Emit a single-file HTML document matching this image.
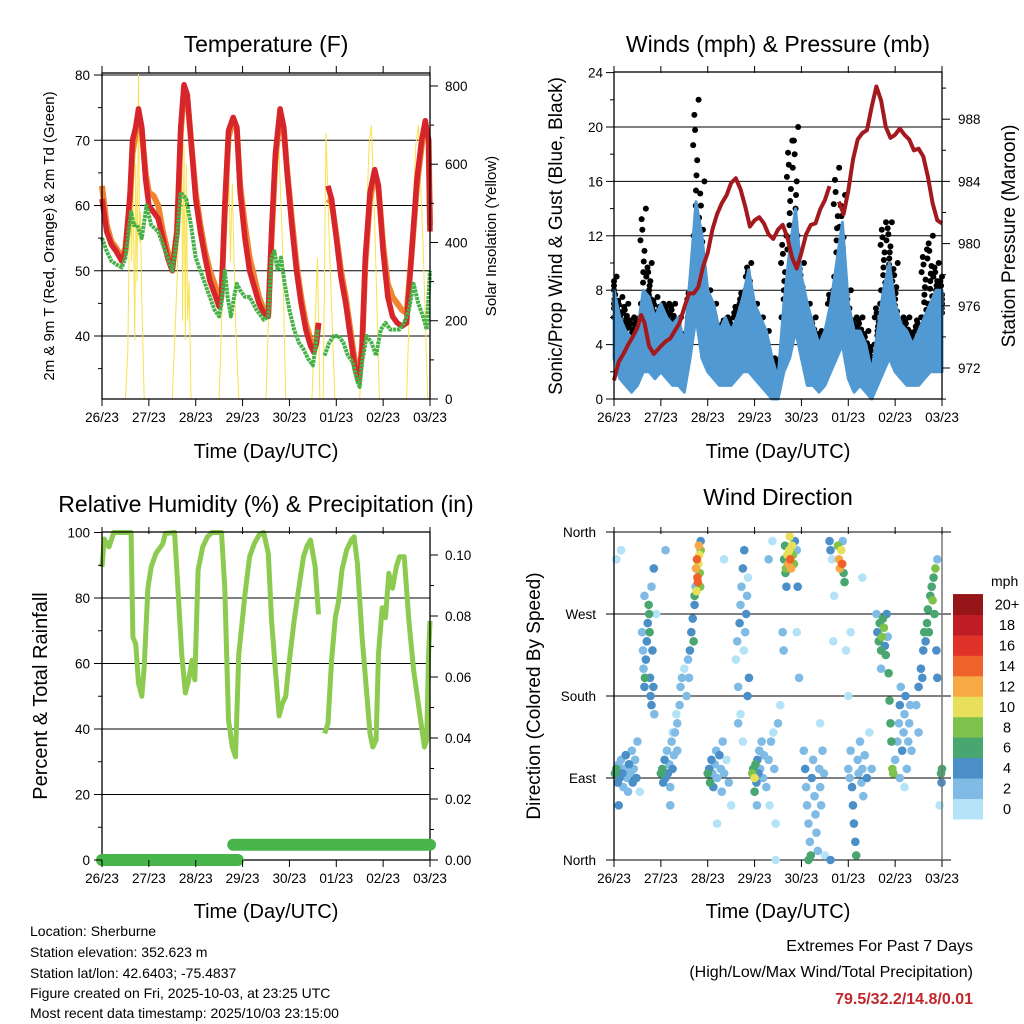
<!DOCTYPE html>
<html><head><meta charset="utf-8"><style>
html,body{margin:0;padding:0;background:#fff;}
svg{display:block;font-family:"Liberation Sans",sans-serif;}
</style></head>
<body>
<svg id="chart" width="1024" height="1024" viewBox="0 0 1024 1024" xmlns="http://www.w3.org/2000/svg">
<rect x="0" y="0" width="1024" height="1024" fill="#fff"/>
<text x="266" y="52" font-size="23" text-anchor="middle">Temperature (F)</text>
<text x="778" y="52" font-size="23" text-anchor="middle">Winds (mph) &amp; Pressure (mb)</text>
<text x="266" y="512" font-size="23" text-anchor="middle">Relative Humidity (%) &amp; Precipitation (in)</text>
<text x="778" y="505" font-size="23" text-anchor="middle">Wind Direction</text>
<text transform="translate(54,236) rotate(-90)" font-size="15" text-anchor="middle">2m &amp; 9m T (Red, Orange) &amp; 2m Td (Green)</text>
<text transform="translate(496,236) rotate(-90)" font-size="15" text-anchor="middle">Solar Insolation (Yellow)</text>
<text transform="translate(562,236) rotate(-90)" font-size="19" text-anchor="middle">Sonic/Prop Wind &amp; Gust (Blue, Black)</text>
<text transform="translate(1015,236) rotate(-90)" font-size="19" text-anchor="middle">Station Pressure (Maroon)</text>
<text transform="translate(47,696) rotate(-90)" font-size="20" text-anchor="middle">Percent &amp; Total Rainfall</text>
<text transform="translate(540,696) rotate(-90)" font-size="19" text-anchor="middle">Direction (Colored By Speed)</text>
<text x="266" y="458" font-size="20" text-anchor="middle">Time (Day/UTC)</text>
<text x="778" y="458" font-size="20" text-anchor="middle">Time (Day/UTC)</text>
<text x="266" y="918" font-size="20" text-anchor="middle">Time (Day/UTC)</text>
<text x="778" y="918" font-size="20" text-anchor="middle">Time (Day/UTC)</text>
<g font-size="14">
<text x="30" y="936">Location: Sherburne</text>
<text x="30" y="957">Station elevation: 352.623 m</text>
<text x="30" y="978">Station lat/lon: 42.6403; -75.4837</text>
<text x="30" y="998">Figure created on Fri, 2025-10-03, at 23:25 UTC</text>
<text x="30" y="1018">Most recent data timestamp: 2025/10/03 23:15:00</text>
</g>
<g text-anchor="end">
<text x="973" y="951" font-size="16">Extremes For Past 7 Days</text>
<text x="973" y="977" font-size="16">(High/Low/Max Wind/Total Precipitation)</text>
<text x="973" y="1004" font-size="16" font-weight="bold" fill="#c0282d">79.5/32.2/14.8/0.01</text>
</g>
</svg>
<script>
// ---------- DATA ----------
const dayLabels = ["26/23","27/23","28/23","29/23","30/23","01/23","02/23","03/23"];
const tempTimes = [0,0.1,0.2,0.3,0.42,0.5,0.6,0.65,0.72,0.78,0.85,0.93,1.0,1.1,1.2,1.3,1.4,1.5,1.6,1.68,1.75,1.82,1.9,2.0,2.1,2.2,2.3,2.4,2.5,2.55,2.62,2.7,2.8,2.88,2.95,3.05,3.15,3.25,3.35,3.45,3.55,3.62,3.7,3.8,3.88,3.95,4.05,4.15,4.25,4.35,4.45,4.52,4.58,4.62,4.7,4.82,4.9,5.0,5.1,5.2,5.3,5.4,5.48,5.55,5.62,5.72,5.82,5.9,6.0,6.1,6.2,6.3,6.4,6.5,6.6,6.72,6.82,6.9,6.97,7.0];
const temp2m = [61,56,54,53,51.5,53,62,70,72,74.8,72,64,60,59,58,55,52,50,56,72,78.5,77,70,61,56,52,48.5,46.5,44.5,46,60,71.5,73.5,72,62,55,50,47.5,45,43.5,43,56,68,74.8,72,65,57,50,45,41,38.5,37.5,39,42,null,63,61,55,49,45,40,35,33,38,52,62,65.5,63,53,46,43,42,41.5,42,52,64,70,73,70,56];
const temp9m = [63,57,54.5,53.5,52,53.5,61,68,71,74,71.5,65,62,61.5,60,56,53,50.5,56,71,78,76.5,70,62,57,53,50,48,45.5,46.5,59,70.5,73,71.5,63,57,52,49,46,44,43.5,55,67,74,71.5,65.5,58,51,46,42,39.5,38,39.5,42,null,61,60.5,55.5,50,46,41,36,33.5,38.5,51,61,64.5,62.5,54,48,46,45,44,43.5,52,63,69,72.5,70,57];
const dewTimes = [0,0.1,0.2,0.3,0.42,0.5,0.62,0.68,0.75,0.85,0.95,1.05,1.2,1.3,1.4,1.5,1.6,1.68,1.8,1.9,2.0,2.1,2.2,2.3,2.4,2.5,2.55,2.62,2.68,2.75,2.82,2.88,2.95,3.05,3.15,3.3,3.45,3.55,3.62,3.68,3.75,3.82,3.9,4.0,4.1,4.2,4.3,4.4,4.5,4.55,4.6,4.68,4.75,4.85,4.95,5.05,5.15,5.25,5.35,5.45,5.5,5.55,5.65,5.75,5.85,5.95,6.05,6.15,6.25,6.35,6.45,6.55,6.65,6.75,6.85,6.93,7.0];
const dewpoint = [55,53,51.5,51,50.5,52,59,57,57,55,60,57,56,54,52,50,55,62,61,57,52,50,48,46,44,43,45,50,46,43,46,48,47,46,46,44,42.5,43,52,53,50,52,48,44,41,39,38,36.5,35.5,38,41,null,37,39,40,40,39,37,36,33,32.2,36,40,39,37,41,42,41,41,41,42,44,48,45,43,41,50];
const solarTimes = [0,0.5,0.55,0.6,0.63,0.66,0.7,0.72,0.75,0.78,0.8,0.82,0.85,0.9,1.5,1.6,1.65,1.7,1.72,1.75,1.78,1.8,1.83,1.86,1.9,2.5,2.58,2.62,2.66,2.7,2.74,2.78,2.85,2.92,3.5,3.6,3.7,3.75,3.85,3.92,4.48,4.55,4.6,4.65,4.72,4.78,4.85,4.97,5.5,5.6,5.7,5.75,5.82,5.92,6.5,6.6,6.7,6.75,6.85,6.95,7.0];
const solarWm2 = [0,0,120,580,350,550,150,600,300,830,400,480,250,0,0,300,500,700,200,650,150,600,200,300,0,0,300,600,450,650,350,550,200,0,0,400,650,720,400,0,0,200,360,0,0,680,400,0,0,300,650,700,450,0,0,400,650,700,400,0,0];

const windTimes = [0,0.125,0.25,0.375,0.5,0.625,0.75,0.875,1,1.125,1.25,1.375,1.5,1.625,1.75,1.875,2,2.125,2.25,2.375,2.5,2.625,2.75,2.875,3,3.125,3.25,3.375,3.5,3.625,3.75,3.875,4,4.125,4.25,4.375,4.5,4.625,4.75,4.875,5,5.125,5.25,5.375,5.5,5.625,5.75,5.875,6,6.125,6.25,6.375,6.5,6.625,6.75,6.875,7];
const sonicHi = [8,6,5,4.5,5,8,7.5,6,7,6,5.5,6,4,9,14.5,12,8,7,5,6,5,6,7.5,9.5,7,6,5,3,1.5,7,11,14,9,7,5.5,4,5,7,10,13,7,5,5,4,2,5,8,10,7,5.5,5,4,5,6,7,8,8];
const sonicLo = [3,1.5,1,0.5,1,2,2,1.5,2,1.5,1,1,0.5,3,6,3,2,1.5,1,1,1,1.5,2,2,1.5,1,0.5,0,0,2,3,5,3,1,1,0.5,1,2,3,4,1.5,0.5,1,0.5,0,1,2,3,2,1.5,1,1,1,1.5,2,2,2];
const gustHi = [9,7.5,7,6,6,14,10,7.5,7,7,7,6,5,8,22,16,8,7,5.5,6,6,7,8,10,7,6,5,3,3,12,19,20,10,7,6,5,5,8,17,15,8,6,6,5,4,7,13,13,10,6,6,5,6,11,12,10,9];
const gustLo = [6,5,5,4,4.5,7,7,5,5,5,5,4,3,6,12,8,6,5,4,4,4,5,6,7,5,4,3,2,1,6,11,11,6,4,4,3,3,5,9,8,5,4,4,3,2,4,8,9,6,4,4,4,4,6,7,7,6];
const pressTimes = [0,0.1,0.2,0.3,0.4,0.5,0.58,0.65,0.75,0.85,1.0,1.1,1.2,1.3,1.4,1.5,1.6,1.7,1.8,1.9,2.0,2.1,2.2,2.3,2.4,2.5,2.6,2.7,2.8,2.9,3.0,3.1,3.2,3.3,3.4,3.5,3.6,3.7,3.8,3.9,4.0,4.1,4.2,4.3,4.4,4.5,4.6,4.7,4.8,4.9,5.0,5.1,5.2,5.3,5.4,5.5,5.6,5.7,5.8,5.9,6.0,6.1,6.2,6.3,6.4,6.5,6.6,6.7,6.8,6.9,7.0];
const pressMb = [971.2,972.4,972.9,973.5,974,974.6,975.4,974.9,973.4,972.9,973.4,973.7,973.9,974.4,974.9,975.9,976.8,976.8,977.2,978.5,979.4,980.9,981.9,982.6,983.1,983.9,984.2,983.5,982.4,981.1,981.5,981.7,981.3,980.6,980.3,980.9,981.2,980.4,979.1,978.4,979.4,980.6,981.2,981.3,982.2,982.8,983.7,null,982.7,981.9,983.4,985.4,986.7,987.1,987.3,988.8,990.1,989.2,987.5,986.8,987,987.4,987,986.7,986,986.1,985.6,984.3,982.6,981.5,981.3];

const rhTimes = [0,0.05,0.15,0.25,0.55,0.62,0.66,0.72,0.78,0.85,0.9,0.98,1.05,1.15,1.3,1.35,1.55,1.62,1.7,1.78,1.85,1.92,1.98,2.05,2.15,2.25,2.35,2.55,2.62,2.7,2.78,2.85,2.92,2.98,3.05,3.15,3.25,3.35,3.45,3.55,3.62,3.7,3.78,3.85,3.92,4.0,4.1,4.2,4.3,4.38,4.45,4.55,4.62,4.7,4.75,4.82,4.9,4.98,5.05,5.12,5.22,5.32,5.38,5.45,5.55,5.65,5.72,5.78,5.85,5.9,5.98,6.05,6.12,6.2,6.28,6.35,6.45,6.55,6.65,6.75,6.82,6.88,6.93,6.97,7.0];
const rhPct = [89.5,98,95.6,100,100,100,68,66,54,50,59,83,89.5,93.6,96.6,99.7,100,83,63,51,55,61,55,88.5,95.6,98.7,100,100,83,42.7,34.5,31.5,63,71,81,92.6,96.6,99.2,100,93.6,73,58,44,47.8,50,61,73,83,92.6,96,97.7,89.5,75,null,38.6,41.6,61,74,79,88.5,94.6,97.7,98.7,90.5,68,51,38.6,34.5,36.6,63,77,74,87.5,83,89.5,92.6,92.6,73,58,47.8,40.6,34.5,36.6,63,73];
const precipTimes = [0,2.9,2.8,7];
const precipIn = [0,0,0.005,0.005];

const speedBinLabels = ["0","2","4","6","8","10","12","14","16","18","20+"];
const speedBinColors = ["#b4e3f8","#7fbbe5","#4a8fc7","#4aa670","#7ec24c","#e7e058","#f6a945","#ef632a","#e03228","#bf1d25","#951519"];
const dirLabels = ["North","East","South","West","North"];
const windDirObs = [
[0.02,95,6],[0.05,100,7],[0.08,85,4],[0.1,105,3],[0.12,90,4],[0.15,110,2],[0.18,95,4],[0.2,80,3],[0.22,100,2],[0.25,115,4],[0.28,90,3],[0.3,75,2],[0.32,105,4],[0.35,95,3],[0.38,120,2],[0.4,85,4],[0.42,100,3],[0.45,110,2],[0.48,90,4],[0.5,130,2],[0.55,75,0],[0.1,60,4],[0.05,330,0],[0.15,340,0],
[0.6,250,2],[0.62,230,2],[0.63,210,3],[0.65,190,5],[0.66,200,7],[0.68,220,4],[0.7,240,4],[0.72,260,5],[0.74,280,7],[0.75,270,6],[0.76,250,6],[0.77,200,4],[0.78,180,4],[0.8,170,5],[0.82,230,5],[0.84,190,4],[0.86,160,3],[0.8,300,3],[0.85,320,4],[0.65,290,2],[0.9,270,1],
[1.0,95,6],[1.03,100,7],[1.05,85,5],[1.08,110,4],[1.1,90,5],[1.13,120,3],[1.15,95,4],[1.18,105,2],[1.2,80,3],[1.23,130,2],[1.25,100,4],[1.28,115,2],[1.3,140,2],[1.33,160,1],[1.35,150,2],[1.4,170,2],[1.42,190,2],[1.45,200,2],[1.5,210,1],[1.55,180,3],[1.2,60,2],[1.35,120,3],[1.25,140,0],[1.1,340,3],
[1.62,230,4],[1.65,250,4],[1.68,265,5],[1.7,240,6],[1.72,280,4],[1.74,300,3],[1.75,320,12],[1.77,330,14],[1.78,310,15],[1.8,325,11],[1.82,335,10],[1.83,315,9],[1.85,340,8],[1.79,305,14],[1.76,295,10],[1.84,300,8],[1.72,290,7],[1.85,350,4],[1.81,345,12],[1.58,220,2],[1.6,200,2],
[2.0,95,6],[2.03,100,4],[2.05,85,6],[2.08,110,4],[2.1,95,3],[2.12,80,4],[2.15,105,2],[2.18,120,3],[2.2,90,2],[2.25,115,4],[2.28,100,2],[2.3,75,3],[2.32,130,2],[2.35,95,2],[2.4,110,1],[2.45,85,2],[2.5,60,0],[2.2,40,0],[2.35,330,1],
[2.6,220,1],[2.63,240,2],[2.65,190,2],[2.68,260,4],[2.7,280,2],[2.72,300,3],[2.75,320,4],[2.77,230,1],[2.8,250,2],[2.82,270,4],[2.84,290,2],[2.86,310,1],[2.88,200,4],[2.7,160,1],[2.78,340,4],[2.85,180,4],[2.75,130,1],[2.65,150,2],
[2.95,95,8],[2.97,100,6],[3.0,90,10],[3.02,105,6],[3.04,85,4],[3.06,110,4],[3.08,95,4],[3.1,120,2],[3.12,100,3],[3.15,130,2],[3.18,90,2],[3.2,115,2],[3.0,75,6],[3.05,60,2],
[3.25,80,2],[3.3,110,2],[3.32,60,1],[3.35,130,2],[3.4,140,1],[3.42,100,2],[3.45,40,0],[3.5,150,2],[3.55,170,1],[3.38,350,1],[3.3,330,2],[3.45,0,0],
[3.63,330,6],[3.65,345,7],[3.67,320,8],[3.68,300,5],[3.7,335,10],[3.72,325,12],[3.74,340,10],[3.76,330,15],[3.78,320,13],[3.8,345,11],[3.82,335,9],[3.84,325,8],[3.86,350,4],[3.9,340,3],[3.92,300,4],[3.6,250,3],[3.62,230,3],[3.9,250,1],[3.95,200,2],[3.75,355,10],[3.66,315,6],
[4.05,120,2],[4.08,100,4],[4.1,80,3],[4.12,60,3],[4.15,40,2],[4.18,20,3],[4.2,5,6],[4.22,90,4],[4.25,110,2],[4.28,70,2],[4.3,50,2],[4.32,30,2],[4.35,10,3],[4.38,100,3],[4.4,80,2],[4.42,60,2],[4.45,120,2],[4.48,95,2],[4.5,5,1],[4.15,0,6],[4.4,150,1],
[4.6,350,4],[4.62,340,4],[4.65,330,1],[4.7,290,1],[4.68,240,1],[4.62,0,4],
[4.78,345,9],[4.8,330,12],[4.82,320,12],[4.85,340,10],[4.87,325,14],[4.9,315,6],[4.92,305,6],[4.88,350,2],[4.95,230,1],
[5.0,100,2],[5.03,90,2],[5.05,120,2],[5.08,80,4],[5.1,60,4],[5.12,40,4],[5.15,20,4],[5.17,5,6],[5.2,110,2],[5.22,95,2],[5.25,130,2],[5.28,85,3],[5.3,100,2],[5.32,70,2],[5.35,115,2],[5.4,90,4],[5.45,140,1],[5.5,100,2],[5.0,180,1],[5.05,250,1],[5.3,310,0],
[5.6,270,3],[5.62,250,4],[5.65,240,6],[5.67,260,7],[5.7,230,6],[5.72,245,8],[5.74,265,6],[5.76,255,8],[5.78,235,4],[5.8,225,6],[5.82,270,5],[5.84,245,3],[5.86,205,7],[5.88,175,6],[5.9,150,6],[5.92,130,7],[5.94,100,9],[5.96,95,8],[5.7,210,2],
[6.0,110,2],[6.05,130,2],[6.08,150,2],[6.1,170,4],[6.12,190,2],[6.15,120,4],[6.18,140,2],[6.2,160,2],[6.22,180,4],[6.25,100,2],[6.28,130,2],[6.3,150,2],[6.32,170,2],[6.35,120,2],[6.1,90,2],[6.2,80,1],
[6.45,170,2],[6.5,190,4],[6.55,210,4],[6.58,200,4],[6.6,230,4],[6.62,250,6],[6.65,240,4],[6.68,260,6],[6.7,275,6],[6.72,250,7],[6.75,290,6],[6.78,300,6],[6.8,285,8],[6.82,310,6],[6.84,270,6],[6.86,320,8],[6.88,230,4],[6.9,330,2],[6.5,140,2],[6.9,200,4],
[6.98,95,6],[7.0,100,7],[6.99,85,4],[6.95,60,0]
];

// ---------- AXES ----------
const DAY = 46.857;
const tx = d => 102 + d*DAY;
const ty = v => 336 - (v-40)*6.525;
const sy = s => 399 - s*0.3913;
const wx = d => 614 + d*DAY;
const wy = v => 399 - v*13.6;
const py = p => 368 - (p-972)*15.55;
const ry = v => 860 - v*3.275;
const pry = p => 860 - p*3050;
const dy = deg => 860 - deg/360*328;

const NS = 'http://www.w3.org/2000/svg';
const svg = document.getElementById('chart');
function mk(tag, attrs, parent){
  const e = document.createElementNS(NS, tag);
  for (const k in attrs) e.setAttribute(k, attrs[k]);
  (parent||svg).appendChild(e);
  return e;
}
function group(name){
  const g = mk('g', {});
  
  
  return g;
}
function pathFrom(times, vals, fx, fy){
  let d = '', pen = false;
  for (let i=0;i<times.length;i++){
    if (vals[i]===null){ pen=false; continue; }
    d += (pen?'L':'M') + fx(times[i]).toFixed(1) + ',' + fy(vals[i]).toFixed(1);
    pen = true;
  }
  return d;
}
function xAxis(g, x0, y0, fx){
  for (let i=0;i<dayLabels.length;i++){
    const x = fx(i);
    mk('line',{x1:x,y1:y0,x2:x,y2:y0+7,stroke:'#000','stroke-width':1},g);
    mk('line',{x1:x,y1:y0-326,x2:x,y2:y0-333,stroke:'#000','stroke-width':1},g);
    const t = mk('text',{x:x,y:y0+23,'font-size':13.5,'text-anchor':'middle'},g);
    
    
    t.textContent = dayLabels[i];
  }
}
function yTicks(g, x, dir, vals, fy, len, labels, lx, anchor){
  vals.forEach((v,i)=>{
    const y = fy(v);
    mk('line',{x1:x,y1:y,x2:x+dir*len,y2:y,stroke:'#000','stroke-width':1},g);
    if (labels){
      const t = mk('text',{x:lx,y:y+5,'font-size':13.5,'text-anchor':anchor},g);
      
      
      t.textContent = labels[i];
    }
  });
}

// ---------- TEMPERATURE PANEL ----------
{
  const g = group('temperature-panel');
  [40,50,60,70,80].forEach(v=>mk('line',{x1:102,x2:430,y1:ty(v),y2:ty(v),stroke:'#000','stroke-width':1},g));
  const solar = mk('path',{d:pathFrom(solarTimes,solarWm2,tx,sy),fill:'none',stroke:'#f9e24f','stroke-width':1},g);
  
  
  const o = mk('path',{d:pathFrom(tempTimes,temp9m,tx,ty),fill:'none',stroke:'#f08430','stroke-width':6,'stroke-linejoin':'round'},g);
  
  
  const r = mk('path',{d:pathFrom(tempTimes,temp2m,tx,ty),fill:'none',stroke:'#d7262b','stroke-width':5.5,'stroke-linejoin':'round'},g);
  
  
  const gd = mk('path',{d:pathFrom(dewTimes,dewpoint,tx,ty),fill:'none',stroke:'#46b147','stroke-width':4,'stroke-dasharray':'3 0.8','stroke-linejoin':'round'},g);
  
  
  mk('rect',{x:102,y:73,width:328,height:326,fill:'none',stroke:'#000','stroke-width':1.3},g);
  xAxis(g,102,399,tx);
  yTicks(g,102,-1,[40,50,60,70,80],ty,8,['40','50','60','70','80'],90,'end');
  yTicks(g,102,-1,[35,45,55,65,75],ty,4,null);
  yTicks(g,430,1,[0,200,400,600,800],sy,8,['0','200','400','600','800'],445,'start');
  yTicks(g,430,1,[100,300,500,700],sy,4,null);
}

// ---------- WIND PANEL ----------
{
  const g = group('wind-pressure-panel');
  [4,8,12,16,20].forEach(v=>mk('line',{x1:614,x2:942,y1:wy(v),y2:wy(v),stroke:'#000','stroke-width':1},g));
  const gg = mk('g',{fill:'#000'},g);
  
  
  const offs = [-0.05,-0.02,0.01,0.04,-0.035,0.025,-0.005,0.055,-0.06,0.0];
  for (let i=0;i<windTimes.length;i++){
    const n = offs.length;
    for (let k=0;k<n;k++){
      const f = ((k*7)%n)/(n-1);
      const v = gustLo[i] + (gustHi[i]-gustLo[i])*f;
      const t = windTimes[i] + offs[k];
      const c = mk('circle',{cx:wx(Math.min(7,Math.max(0,t))),cy:wy(v),r:3},gg);
      
      
    }
  }
  let ptsHi = windTimes.map((t,i)=>wx(t).toFixed(1)+','+wy(sonicHi[i]).toFixed(1));
  let ptsLo = windTimes.map((t,i)=>wx(t).toFixed(1)+','+wy(sonicLo[i]).toFixed(1)).reverse();
  const band = mk('polygon',{points:ptsHi.concat(ptsLo).join(' '),fill:'#5199d3',stroke:'#5199d3','stroke-width':3,'stroke-linejoin':'round'},g);
  
  
  const p = mk('path',{d:pathFrom(pressTimes,pressMb,wx,py),fill:'none',stroke:'#a3191d','stroke-width':4,'stroke-linejoin':'round'},g);
  
  
  mk('rect',{x:614,y:72,width:328,height:327,fill:'none',stroke:'#000','stroke-width':1.3},g);
  xAxis(g,614,399,wx);
  yTicks(g,614,-1,[0,4,8,12,16,20,24],wy,8,['0','4','8','12','16','20','24'],603,'end');
  yTicks(g,614,-1,[2,6,10,14,18,22],wy,4,null);
  yTicks(g,942,1,[972,976,980,984,988],py,8,['972','976','980','984','988'],958,'start');
  yTicks(g,942,1,[970,974,978,982,986,990],py,4,null);
}

// ---------- RH PANEL ----------
{
  const g = group('humidity-panel');
  [20,40,60,80].forEach(v=>mk('line',{x1:102,x2:430,y1:ry(v),y2:ry(v),stroke:'#000','stroke-width':1},g));
  const rh = mk('path',{d:pathFrom(rhTimes,rhPct,tx,ry),fill:'none',stroke:'#8ccb4f','stroke-width':5,'stroke-linejoin':'round'},g);
  
  
  mk('rect',{x:102,y:532,width:328,height:328,fill:'none',stroke:'#000','stroke-width':1.3},g);
  const pr1 = mk('path',{d:'M'+tx(precipTimes[0])+','+pry(precipIn[0])+'L'+tx(precipTimes[1])+','+pry(precipIn[1]),stroke:'#47b549','stroke-width':12,'stroke-linecap':'round',fill:'none'},g);
  
  
  const pr2 = mk('path',{d:'M'+tx(precipTimes[2])+','+pry(precipIn[2])+'L'+tx(precipTimes[3])+','+pry(precipIn[3]),stroke:'#47b549','stroke-width':12,'stroke-linecap':'round',fill:'none'},g);
  
  
  xAxis(g,102,860,tx);
  yTicks(g,102,-1,[0,20,40,60,80,100],ry,8,['0','20','40','60','80','100'],90,'end');
  yTicks(g,102,-1,[10,30,50,70,90],ry,4,null);
  yTicks(g,430,1,[0,0.02,0.04,0.06,0.08,0.1],pry,8,['0.00','0.02','0.04','0.06','0.08','0.10'],445,'start');
  yTicks(g,430,1,[0.01,0.03,0.05,0.07,0.09],pry,4,null);
}

// ---------- WIND DIRECTION PANEL ----------
{
  const g = group('wind-direction-panel');
  const dd = [0,90,180,270,360];
  dd.forEach(v=>mk('line',{x1:606,x2:951,y1:dy(v),y2:dy(v),stroke:'#000','stroke-width':1},g));
  const pts = mk('g',{},g);
  
  
  const ordered = windDirObs.slice().sort((a,b)=>a[2]-b[2]);
  ordered.forEach(o=>{
    const bin = Math.min(10, Math.floor(o[2]/2));
    const c = mk('circle',{cx:wx(o[0]),cy:dy(o[1]),r:4.3,fill:speedBinColors[bin]},pts);
    
    
  });
  mk('line',{x1:614,x2:614,y1:532,y2:860,stroke:'#000','stroke-width':1.3},g);
  mk('line',{x1:942,x2:942,y1:532,y2:860,stroke:'#777','stroke-width':1.5},g);
  xAxis(g,614,860,wx);
  dd.forEach((v,i)=>{
    const t = mk('text',{x:596,y:dy(v)+5,'font-size':13.5,'text-anchor':'end'},g);
    
    
    t.textContent = dirLabels[i];
  });
  const cb = group('speed-colorbar');
  const mt = mk('text',{x:991,y:586,'font-size':14},cb);
  
  
  mt.textContent = 'mph';
  for (let i=0;i<speedBinColors.length;i++){
    const y0 = 819 - (i+1)*20.45;
    const r = mk('rect',{x:953,y:y0,width:30,height:20.9,fill:speedBinColors[i]},cb);
    
    
    const t = mk('text',{x:1007,y:y0+15.5,'font-size':14.5,'text-anchor':'middle'},cb);
    
    
    t.textContent = speedBinLabels[i];
  }
}
</script>
</body></html>
